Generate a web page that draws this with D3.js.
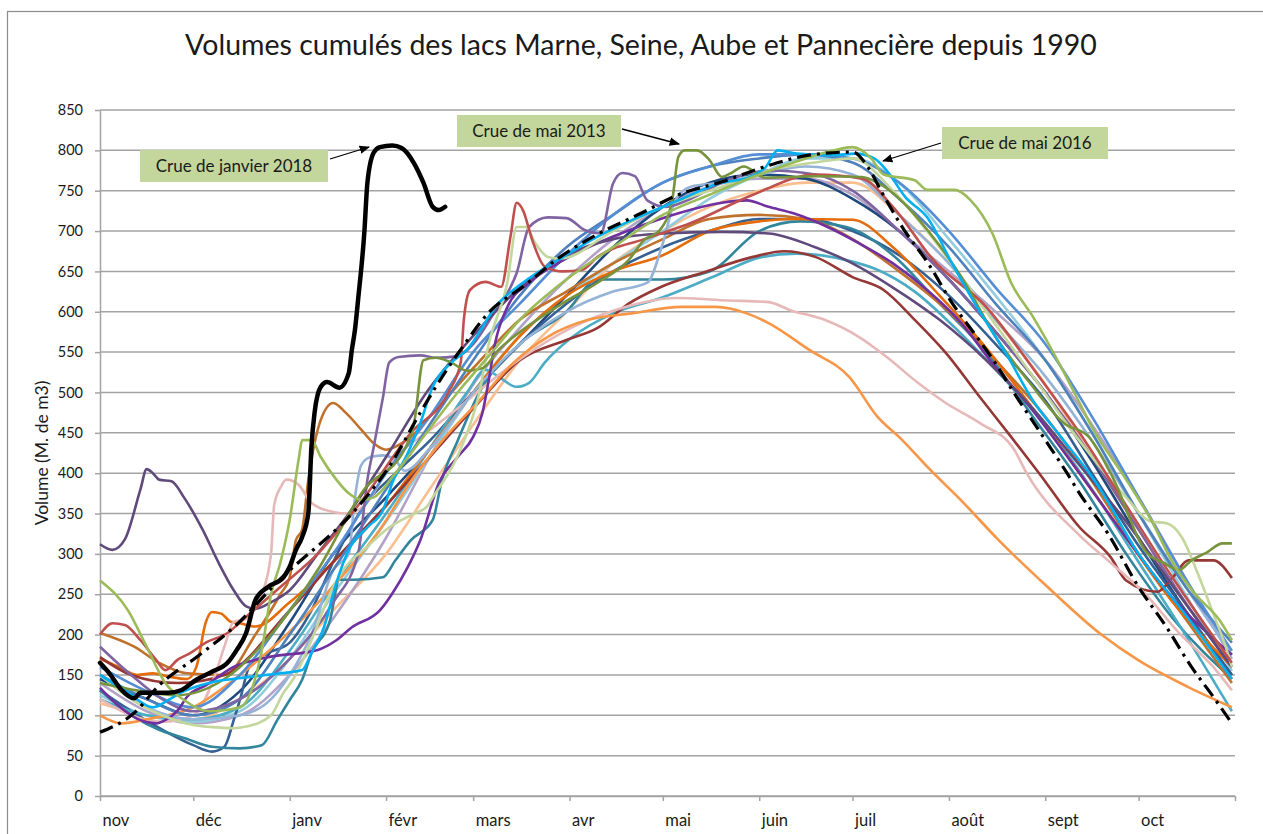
<!DOCTYPE html>
<html>
<head>
<meta charset="utf-8">
<script src="https://cdn.jsdelivr.net/npm/d3@7"></script>
<style>
  body { margin: 0; background: #fff; }
  text { font-family: Lato, "Open Sans", sans-serif; fill: #1a1a1a; }
</style>
</head>
<body>
<div id="graphique"></div>
<script>
// Etiquettes des mois (axe des abscisses, de novembre à octobre)
const mois = ["nov", "déc", "janv", "févr", "mars", "avr", "mai", "juin", "juil", "août", "sept", "oct", ""];

// Chaque courbe : [jour depuis le 1er novembre, volume en M. de m3]
const crue2018 = [[0,165],[3,152],[7,131],[11,121],[13,128],[22,128],[26,131],[31,144],[36,154],[41,165],[44,181],[47,202],[50,243],[54,259],[59,271],[61,284],[63,305],[65,321],[67,351],[68,433],[69,475],[71,507],[73,513],[77,506],[80,524],[81,553],[82,578],[83,615],[85,698],[86,760],[88,797],[90,804],[94,806],[97,803],[101,784],[104,760],[107,730],[109,726],[111,730]];
const objectif = [[0,79],[11,103],[19,137],[31,172],[43,209],[57,265],[84,363],[93,408],[103,475],[108,507],[116,553],[125,599],[136,631],[148,668],[161,698],[174,722],[186,745],[200,761],[214,780],[228,794],[242,798],[247,779],[251,751],[258,705],[267,656],[274,611],[281,574],[288,536],[294,499],[299,470],[304,441],[311,400],[315,375],[324,326],[334,259],[343,209],[351,160],[358,123],[364,90]];

const violetFonce = [[0,312],[4,305],[8,318],[13,380],[15,405],[17,400],[19,392],[23,390],[27,370],[33,330],[38,290],[43,255],[47,235],[50,232],[55,240],[61,255],[70,300],[80,350],[92,420],[105,500],[120,570],[135,630],[150,670],[165,690],[181,697],[200,699],[215,697],[230,680],[242,660],[255,630],[270,590],[285,540],[300,480],[315,410],[330,340],[345,260],[364,160]];
const rouge = [[0,200],[4,214],[8,212],[13,193],[18,169],[21,156],[25,169],[29,177],[34,190],[41,202],[47,222],[58,259],[70,300],[85,370],[100,450],[112,500],[116,537],[117,590],[119,627],[124,637],[129,631],[132,693],[134,735],[136,726],[139,689],[143,656],[149,650],[155,652],[160,668],[175,690],[190,710],[210,745],[230,770],[245,765],[255,730],[268,664],[285,606],[300,530],[315,450],[330,360],[345,270],[364,165]];
const rougeFonce = [[0,172],[10,150],[25,140],[40,150],[61,230],[75,290],[92,360],[106,420],[120,480],[135,540],[150,565],[160,580],[170,610],[180,630],[195,650],[210,668],[220,675],[230,668],[242,643],[252,627],[262,590],[272,549],[283,494],[293,445],[302,400],[315,333],[325,296],[330,267],[340,253],[345,271],[350,292],[358,292],[364,270]];
const olive = [[0,140],[10,132],[25,125],[40,145],[55,200],[70,280],[85,380],[98,430],[101,462],[104,540],[108,543],[113,537],[118,527],[123,530],[128,552],[139,586],[149,611],[160,636],[170,664],[175,689],[180,701],[184,738],[186,792],[188,800],[192,800],[196,788],[200,767],[203,772],[207,780],[214,766],[230,768],[245,767],[250,760],[267,697],[277,643],[288,569],[299,512],[310,462],[318,445],[325,400],[337,300],[342,289],[347,280],[351,292],[356,302],[361,313],[364,313]];
const vert = [[0,267],[9,230],[15,185],[21,140],[27,119],[35,105],[45,110],[52,180],[55,250],[58,289],[61,342],[64,420],[65,441],[68,441],[71,420],[76,392],[80,375],[84,367],[88,370],[95,400],[105,450],[115,500],[125,545],[135,590],[150,640],[165,680],[181,720],[196,745],[212,770],[227,790],[236,800],[242,804],[248,790],[252,770],[262,763],[266,751],[275,751],[280,738],[287,697],[293,636],[300,594],[309,532],[315,487],[319,457],[330,392],[338,342],[345,289],[352,251],[360,218],[364,193]];
const vertClair = [[0,150],[10,120],[20,100],[30,88],[38,85],[43,84],[47,86],[55,100],[59,128],[62,144],[68,193],[74,251],[79,284],[86,309],[92,330],[101,350],[105,358],[107,370],[116,430],[122,500],[125,560],[131,636],[134,705],[137,705],[140,685],[144,668],[148,666],[165,700],[181,730],[200,755],[215,775],[230,785],[242,790],[255,750],[270,680],[285,600],[300,520],[315,440],[330,370],[338,340],[343,338],[348,320],[353,276],[358,226],[362,185],[364,160]];
const cyan = [[0,150],[9,128],[17,110],[22,119],[26,128],[36,141],[47,147],[58,152],[65,156],[68,177],[72,209],[76,264],[80,305],[86,333],[91,354],[94,388],[99,425],[103,462],[107,507],[113,537],[118,553],[128,610],[136,636],[149,668],[160,693],[173,717],[186,738],[199,759],[209,767],[214,779],[218,800],[224,796],[236,794],[243,796],[249,790],[253,775],[259,742],[266,717],[274,660],[282,606],[292,544],[300,490],[309,445],[320,390],[334,300],[350,220],[364,145]];
const violet = [[0,134],[5,115],[13,94],[18,90],[21,94],[25,106],[28,123],[34,137],[43,160],[54,172],[70,181],[76,193],[81,209],[90,230],[94,251],[99,284],[103,317],[109,388],[115,420],[120,445],[123,475],[125,515],[127,560],[131,606],[138,636],[149,664],[160,685],[173,705],[186,722],[200,735],[208,738],[215,730],[223,722],[234,705],[244,685],[255,660],[266,627],[277,586],[287,536],[298,487],[315,400],[330,320],[345,245],[364,175]];
const orange = [[0,100],[7,90],[15,95],[30,110],[45,150],[60,200],[75,260],[90,330],[100,390],[110,440],[122,490],[133,537],[144,569],[157,590],[171,598],[187,606],[198,606],[208,598],[215,586],[228,553],[241,519],[250,470],[258,441],[266,408],[277,366],[289,317],[305,258],[322,200],[334,168],[350,135],[364,110]];
const rose = [[0,120],[10,100],[20,92],[30,100],[37,150],[40,185],[43,216],[46,218],[52,250],[55,300],[56,360],[58,382],[60,392],[64,385],[68,363],[75,352],[80,350],[85,360],[95,420],[105,450],[115,480],[125,512],[136,544],[152,581],[169,606],[185,617],[202,614],[215,612],[222,602],[233,590],[244,569],[253,544],[263,512],[272,487],[283,462],[294,429],[298,400],[315,323],[325,289],[336,251],[347,202],[358,160],[364,131]];
const bleuAcier = [[0,131],[13,98],[22,78],[30,63],[36,55],[40,61],[43,94],[45,119],[48,160],[54,177],[61,190],[68,230],[75,290],[85,360],[95,400],[106,440],[120,500],[135,560],[150,610],[165,650],[181,680],[196,700],[212,715],[227,715],[242,700],[257,670],[273,620],[288,560],[304,490],[319,400],[334,310],[349,230],[364,150]];
const sarcelle = [[0,131],[11,98],[19,82],[27,72],[36,61],[45,59],[52,63],[57,94],[61,119],[65,144],[68,177],[74,218],[77,268],[82,268],[91,271],[95,292],[100,317],[107,342],[110,392],[115,440],[122,500],[135,560],[150,600],[160,640],[181,640],[196,650],[212,700],[225,712],[240,705],[255,670],[270,610],[285,550],[300,470],[315,390],[330,300],[345,220],[364,145]];
const turquoise = [[0,120],[15,100],[30,95],[45,110],[61,180],[75,260],[92,350],[106,430],[118,500],[124,528],[128,520],[134,507],[138,512],[143,537],[152,569],[165,598],[181,618],[197,643],[213,668],[224,672],[240,664],[250,652],[262,625],[275,580],[290,520],[304,460],[319,380],[334,290],[349,200],[364,105]];
const brun = [[0,202],[11,185],[19,165],[28,152],[40,150],[50,200],[58,250],[61,271],[63,317],[65,330],[67,392],[71,466],[75,487],[79,475],[84,454],[88,437],[92,429],[97,437],[100,445],[106,470],[120,530],[135,590],[150,625],[165,660],[181,690],[196,715],[212,720],[227,715],[242,690],[257,650],[273,600],[288,540],[304,470],[319,390],[334,300],[349,220],[364,140]];
const orangeFonce = [[0,170],[6,160],[12,150],[17,152],[22,148],[28,145],[31,160],[34,215],[36,228],[39,226],[42,216],[45,214],[50,210],[61,240],[75,290],[90,350],[106,430],[120,500],[135,570],[150,620],[165,650],[181,670],[196,700],[212,712],[222,715],[242,714],[255,680],[270,620],[285,555],[300,480],[315,400],[330,320],[345,240],[364,160]];
const mauve = [[0,185],[10,150],[20,120],[30,105],[45,120],[61,170],[75,240],[83,300],[86,392],[88,432],[91,494],[93,537],[96,544],[103,546],[108,543],[115,545],[120,560],[127,600],[131,623],[134,648],[138,705],[144,717],[150,716],[156,701],[161,697],[165,759],[168,772],[172,768],[176,738],[182,730],[190,740],[200,760],[215,775],[230,770],[242,750],[257,700],[273,640],[288,575],[304,500],[319,420],[334,330],[349,240],[364,160]];
const bleu = [[0,150],[15,120],[30,100],[45,120],[61,200],[75,280],[92,380],[106,460],[120,540],[135,620],[150,680],[165,720],[181,760],[196,780],[212,790],[227,795],[242,785],[257,740],[273,680],[288,610],[304,540],[319,450],[334,350],[349,260],[364,190]];
const bleuClair = [[0,150],[15,110],[30,95],[45,100],[55,120],[61,150],[68,200],[75,280],[80,300],[82,370],[84,410],[87,420],[91,422],[95,416],[98,403],[106,430],[120,500],[135,560],[150,600],[165,625],[176,636],[181,685],[185,738],[190,755],[200,760],[212,770],[227,780],[242,770],[257,720],[273,660],[288,590],[304,520],[319,440],[334,350],[349,260],[364,175]];
const saumon = [[0,115],[15,100],[30,95],[45,120],[61,170],[75,230],[92,300],[106,380],[120,460],[135,540],[150,600],[165,660],[181,700],[196,730],[212,750],[227,760],[242,760],[257,720],[273,660],[288,590],[304,510],[319,420],[334,330],[349,240],[364,160]];
const mauveClair = [[0,140],[15,105],[30,90],[45,100],[61,150],[75,220],[92,320],[106,420],[120,510],[135,580],[150,640],[165,690],[181,730],[196,755],[212,765],[227,765],[242,745],[257,700],[273,650],[288,600],[304,540],[319,460],[334,370],[349,270],[364,170]];
const bleuMoyen = [[0,160],[15,130],[30,110],[45,150],[61,230],[75,300],[92,400],[106,470],[120,550],[135,610],[150,670],[165,720],[181,760],[196,780],[212,795],[227,795],[242,790],[257,760],[273,700],[288,630],[304,560],[319,470],[334,370],[349,270],[364,180]];
const tealClair = [[0,125],[15,100],[30,92],[45,105],[61,170],[75,250],[92,340],[106,420],[120,500],[135,570],[150,620],[165,660],[181,700],[196,740],[212,770],[227,790],[242,790],[257,760],[273,690],[288,620],[304,540],[319,450],[334,350],[349,250],[364,155]];
const bleuNuit = [[0,145],[15,120],[30,100],[45,130],[61,215],[75,300],[92,370],[106,430],[120,500],[135,560],[150,620],[165,680],[181,730],[196,760],[212,770],[227,765],[242,740],[257,700],[273,640],[288,575],[304,500],[319,415],[334,320],[349,230],[364,150]];

// Courbes colorées et leurs couleurs (mêmes positions)
const courbes = [saumon, mauveClair, tealClair, bleuNuit, bleuAcier, sarcelle, turquoise, brun, orangeFonce, rougeFonce, rose, orange, bleuClair, bleu, bleuMoyen, mauve, violet, violetFonce, vertClair, rouge, olive, cyan, vert];
const couleurs = ["#fabf8f", "#b3a2c7", "#93cddd", "#1f497d", "#366092", "#31859c", "#4bacc6", "#c0712c", "#e46c0a", "#953735", "#e6b9b8", "#f79646", "#95b3d7", "#4f81bd", "#558ed5", "#8064a2", "#7030a0", "#604a7b", "#c3d69b", "#c0504d", "#77933c", "#00b0f0", "#9bbb59"];

const graduationsY = d3.range(0, 851, 50);

// Dimensions
const largeur = 1263, hauteur = 834;
const debut = new Date(Date.UTC(2017, 10, 1));
const fin = new Date(Date.UTC(2018, 10, 1));

const svg = d3.select("#graphique")
    .append("svg")
    .attr("width", largeur)
    .attr("height", hauteur);

// Cadre du graphique
svg.append("rect")
    .attr("x", 7.5).attr("y", 11.5)
    .attr("width", 1300).attr("height", 900)
    .attr("fill", "none").attr("stroke", "#8c8c8c").attr("stroke-width", 1.2);

const x = d3.scaleUtc().domain([debut, fin]).range([100, 1235]);
const y = d3.scaleLinear().domain([0, 850]).range([796, 110]);

// Quadrillage horizontal
svg.append("g")
    .selectAll("line")
    .data(graduationsY)
    .enter()
    .append("line")
    .attr("x1", 100).attr("x2", 1235)
    .attr("y1", d => y(d)).attr("y2", d => y(d))
    .attr("stroke", "#a3a3a3").attr("stroke-width", 1.5);

// Axe des ordonnées
const axeY = svg.append("g")
    .attr("transform", "translate(100,0)")
    .call(d3.axisLeft(y).tickValues(graduationsY).tickSize(5).tickSizeOuter(0).tickPadding(12));
axeY.selectAll("path, line").attr("stroke", "#a3a3a3").attr("stroke-width", 1.5);
axeY.selectAll("text").style("font-size", "14.5px").style("font-family", "Lato").attr("fill", "#1a1a1a");

// Axe des abscisses
const axeX = svg.append("g")
    .attr("transform", "translate(0,796)")
    .call(d3.axisBottom(x)
        .ticks(d3.utcMonth.every(1))
        .tickSize(5)
        .tickSizeOuter(0)
        .tickFormat((d, i) => mois[i]));
axeX.selectAll("path, line").attr("stroke", "#a3a3a3").attr("stroke-width", 1.5);
axeX.selectAll("text")
    .attr("text-anchor", "start")
    .attr("dx", 2)
    .attr("y", 18)
    .style("font-size", "16.5px").style("font-family", "Lato").attr("fill", "#1a1a1a");

// Générateur de ligne
const ligne = d3.line()
    .x(d => x(d3.utcDay.offset(debut, d[0])))
    .y(d => y(d[1]))
    .curve(d3.curveMonotoneX);

svg.append("g")
    .selectAll("path")
    .data(courbes)
    .enter()
    .append("path")
    .attr("d", ligne)
    .attr("fill", "none")
    .attr("stroke", (d, i) => couleurs[i])
    .attr("stroke-width", 2.6)
    .attr("stroke-linejoin", "round");

svg.append("path")
    .attr("d", ligne(objectif))
    .attr("fill", "none")
    .attr("stroke", "#000")
    .attr("stroke-width", 3.2)
    .attr("stroke-dasharray", "14,6,3,6");

svg.append("path")
    .attr("d", ligne(crue2018))
    .attr("fill", "none")
    .attr("stroke", "#000")
    .attr("stroke-width", 4.5)
    .attr("stroke-linejoin", "round")
    .attr("stroke-linecap", "round");

// Titres
svg.append("text")
    .attr("x", 641).attr("y", 55)
    .attr("text-anchor", "middle")
    .style("font-size", "28.5px")
    .text("Volumes cumulés des lacs Marne, Seine, Aube et Pannecière depuis 1990");

svg.append("text")
    .attr("transform", "translate(48,453) rotate(-90)")
    .attr("text-anchor", "middle")
    .style("font-size", "17.5px")
    .text("Volume (M. de m3)");

// Annotations
svg.append("defs").append("marker")
    .attr("id", "fleche")
    .attr("viewBox", "0 0 10 10")
    .attr("refX", 9).attr("refY", 5)
    .attr("markerWidth", 8).attr("markerHeight", 8)
    .attr("orient", "auto")
    .append("path")
    .attr("d", "M0,1 L10,5 L0,9 Z")
    .attr("fill", "#000");

const annotations = [
    { texte: "Crue de janvier 2018", x: 140, y: 150, l: 188, h: 32, fleche: [330, 159, 369, 147] },
    { texte: "Crue de mai 2013", x: 457, y: 115, l: 164, h: 32, fleche: [622, 129, 679, 144] },
    { texte: "Crue de mai 2016", x: 942, y: 127, l: 166, h: 32, fleche: [941, 143, 883, 161] }
];

annotations.forEach(a => {
    svg.append("rect")
        .attr("x", a.x).attr("y", a.y)
        .attr("width", a.l).attr("height", a.h)
        .attr("fill", "#c3d69b");
    svg.append("text")
        .attr("x", a.x + a.l / 2).attr("y", a.y + a.h / 2 + 6)
        .attr("text-anchor", "middle")
        .style("font-size", "17px")
        .text(a.texte);
    svg.append("line")
        .attr("x1", a.fleche[0]).attr("y1", a.fleche[1])
        .attr("x2", a.fleche[2]).attr("y2", a.fleche[3])
        .attr("stroke", "#000").attr("stroke-width", 1.3)
        .attr("marker-end", "url(#fleche)");
});
</script>
</body>
</html>
